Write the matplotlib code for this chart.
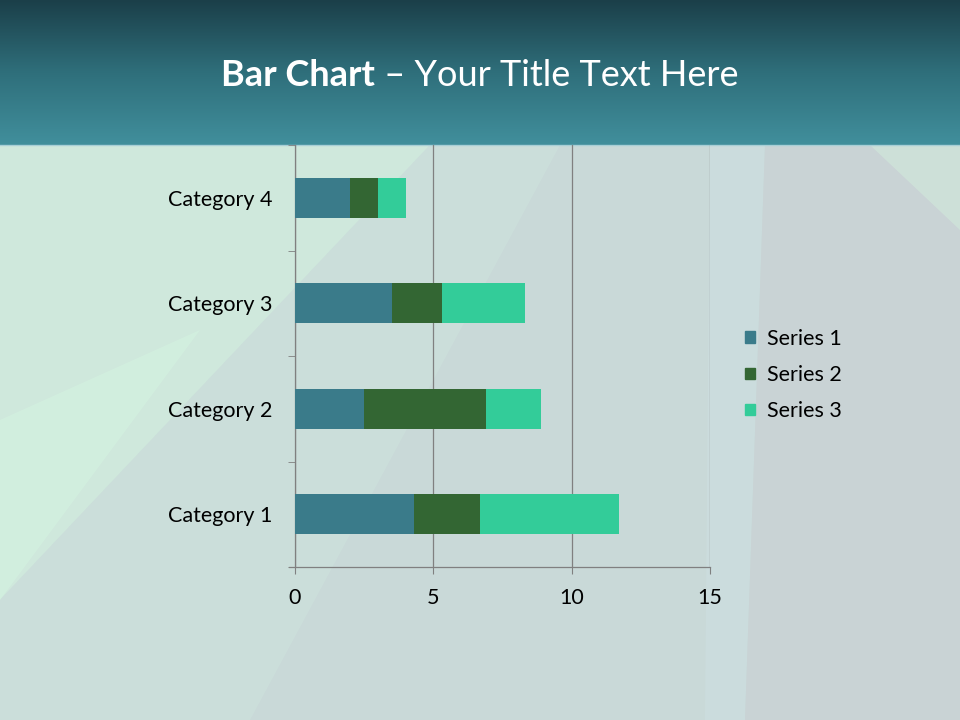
import matplotlib.pyplot as plt
import numpy as np
from matplotlib.patches import Polygon, Patch
from matplotlib.colors import LinearSegmentedColormap

categories = ["Category 1", "Category 2", "Category 3", "Category 4"]
series_names = ["Series 1", "Series 2", "Series 3"]
series1 = [4.3, 2.5, 3.5, 2.0]
series2 = [2.4, 4.4, 1.8, 1.0]
series3 = [5.0, 2.0, 3.0, 1.0]
x_ticks = [0, 5, 10, 15]

COLORS = ["#3a7b8a", "#336633", "#33cc99"]
FONT = "Lato"

fig = plt.figure(figsize=(9.6, 7.2), dpi=100)

# background slide
bg = fig.add_axes([0, 0, 1, 1], zorder=0)
bg.set_xlim(0, 960)
bg.set_ylim(720, 0)
bg.axis("off")
bg.add_patch(Polygon([(0, 145), (960, 145), (960, 720), (0, 720)], color="#c9d9d8", lw=0))
# soft mint wedge on the left
bg.add_patch(Polygon([(0, 145), (430, 145), (0, 600)], color="#cfe8dc", lw=0))
bg.add_patch(Polygon([(0, 420), (200, 330), (0, 600)], color="#d4f3e0", lw=0, alpha=0.6))
# faint lighter diagonal band
bg.add_patch(Polygon([(430, 145), (560, 145), (250, 720), (0, 720), (0, 600)],
                     color="#cde2dc", lw=0, alpha=0.6))
bg.add_patch(Polygon([(710, 145), (765, 145), (745, 720), (705, 720)],
                     color="#cddfe1", lw=0, alpha=0.6))
bg.add_patch(Polygon([(765, 145), (960, 145), (960, 720), (745, 720)],
                     color="#c9d3d5", lw=0))
bg.add_patch(Polygon([(870, 145), (960, 145), (960, 230)], color="#d0e6da", lw=0, alpha=0.7))
# header gradient
header = LinearSegmentedColormap.from_list("hdr", ["#1b3f49", "#2f6f7b", "#418f9c"])
bg.imshow(np.linspace(0, 1, 256).reshape(-1, 1), cmap=header, aspect="auto",
          extent=(0, 960, 145, 0), zorder=2)
bg.plot([0, 960], [145, 145], color="#a8cfd6", lw=1, zorder=3)

# title: bold part + regular part, centred together
t1 = fig.text(0, 1 - 75 / 720, "Bar Chart", ha="left", va="center", color="white",
              fontsize=26, fontweight="bold", family=FONT)
t2 = fig.text(0, 1 - 75 / 720, " – Your Title Text Here", ha="left", va="center",
              color="white", fontsize=26, family=FONT)
r = fig.canvas.get_renderer()
w1 = t1.get_window_extent(r).width / 960
w2 = t2.get_window_extent(r).width / 960
x0 = 0.5 - (w1 + w2) / 2
t1.set_x(x0)
t2.set_x(x0 + w1)

ax = fig.add_axes([295 / 960, 1 - 567 / 720, 415 / 960, 422 / 720], zorder=1)
ax.patch.set_alpha(0)
y = np.arange(len(categories))
left = np.zeros(len(categories))
for name, vals, col in zip(series_names, [series1, series2, series3], COLORS):
    ax.barh(y, vals, left=left, height=0.38, color=col, label=name, zorder=3)
    left += np.array(vals)

ax.set_xlim(0, 15)
ax.set_ylim(-0.5, len(categories) - 0.5)
ax.set_xticks(x_ticks)
ax.set_xticklabels([str(t) for t in x_ticks], family=FONT, fontsize=15.5)
ax.set_yticks(y)
ax.set_yticklabels(categories, family=FONT, fontsize=15.5)
ax.set_yticks(np.arange(-0.5, len(categories)), minor=True)
ax.tick_params(axis="y", which="major", length=0, pad=16)
ax.tick_params(axis="y", which="minor", length=5, color="#808080", direction="out")
ax.tick_params(axis="x", length=5, color="#808080", pad=10)
ax.grid(axis="x", color="#808080", lw=0.9, zorder=1)
for s in ["top", "right"]:
    ax.spines[s].set_visible(False)
for s in ["left", "bottom"]:
    ax.spines[s].set_color("#808080")
    ax.spines[s].set_linewidth(0.9)
ax.spines["bottom"].set_bounds(-0.2, 15)

handles = [Patch(color=c, label=n) for n, c in zip(series_names, COLORS)]
fig.legend(handles=handles, loc="center left", bbox_to_anchor=(745 / 960, 1 - 375 / 720),
           frameon=False, prop={"family": FONT, "size": 15.5}, handlelength=0.45,
           handleheight=0.45, handletextpad=0.55, labelspacing=0.75, borderpad=0,
           borderaxespad=0)

fig.savefig("out.png", dpi=100)
